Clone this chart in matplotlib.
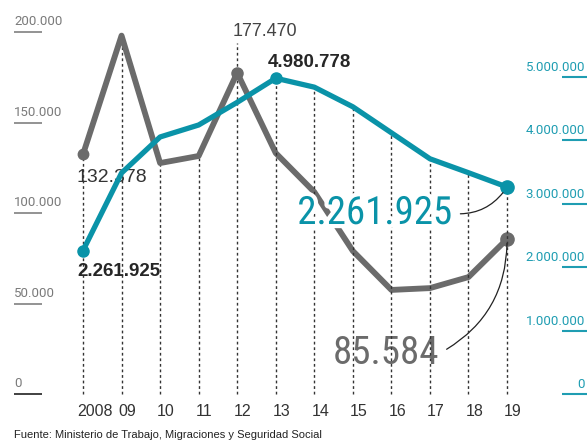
import matplotlib
matplotlib.use("Agg")
import matplotlib.pyplot as plt
import matplotlib.patheffects as pe
from matplotlib import font_manager
from matplotlib.transforms import blended_transform_factory

# data
years = list(range(2008, 2020))
year_labels = ['2008', '09', '10', '11', '12', '13', '14', '15', '16', '17', '18', '19']
gray_vals = [132378, 198000, 127600, 131500, 177470, 133100, 111600,
             79000, 57500, 58500, 64600, 85584]
blue_vals = [2261925, 3486000, 4054000, 4243000, 4600000, 4980778, 4840000,
             4530000, 4120000, 3710000, 3490000, 3265000]

left_ticks = [0, 50000, 100000, 150000, 200000]
left_labels = ['0', '50.000', '100.000', '150.000', '200.000']
right_ticks = [0, 1000000, 2000000, 3000000, 4000000, 5000000]
right_labels = ['0', '1.000.000', '2.000.000', '3.000.000', '4.000.000', '5.000.000']

GRAY = '#6b6b6b'
TEAL = '#0a93a8'
TEAL_TXT = '#1f9db2'
DARK = '#262626'
W, H = 587, 444

# look for a condensed face for the big callouts
names = {f.name for f in font_manager.fontManager.ttflist}
cond = [n for n in ['Roboto Condensed', 'Open Sans Condensed', 'Liberation Sans Narrow',
                    'DejaVu Sans Condensed'] if n in names]
big_family = cond + ['DejaVu Sans']

fig = plt.figure(figsize=(W / 100, H / 100), dpi=100)
ax = fig.add_axes([0, 0, 1, 1])
ax.set_xlim(2005.847, 2021.074)
ax.set_ylim(-27624, 217680)
ax.axis('off')
ax2 = ax.twinx()
ax2.set_ylim(-788644, 6214511)
ax2.axis('off')

bl = blended_transform_factory(ax.transAxes, ax.transData)
br = blended_transform_factory(ax2.transAxes, ax2.transData)

# left scale
for v, lab in zip(left_ticks, left_labels):
    ax.plot([14 / W, 42 / W], [v, v], transform=bl, color='#333' if v == 0 else '#8a8a8a',
            lw=1.3, solid_capstyle='butt')
    ax.annotate(lab, xy=(14 / W, v), xycoords=bl, xytext=(0, 7), textcoords='offset pixels',
                ha='left', va='baseline', fontsize=9.5, color='#7a7a7a', family='Roboto')

# right scale
for v, lab in zip(right_ticks, right_labels):
    ax2.plot([562 / W, 1], [v, v], transform=br, color=TEAL_TXT, lw=1.5, solid_capstyle='butt')
    ax2.annotate(lab, xy=(585 / W, v), xycoords=br, xytext=(0, 6), textcoords='offset pixels',
                 ha='right', va='baseline', fontsize=9.5, color=TEAL_TXT, family='Roboto')

# dotted guides
for yr, g, b in zip(years, gray_vals, blue_vals):
    if yr == 2012:
        ax.plot([yr, yr], [0, 194000], color='#333', lw=1, ls=(0, (2, 2)), zorder=1)
    elif yr < 2012:
        ax.plot([yr, yr], [0, g], color='#333', lw=1, ls=(0, (2, 2)), zorder=1)
    else:
        ax2.plot([yr, yr], [0, b], color='#333', lw=1, ls=(0, (2, 2)), zorder=1)

# lines
ax.plot(years, gray_vals, color=GRAY, lw=4.2, solid_joinstyle='round', zorder=3)
ax2.plot(years, blue_vals, color=TEAL, lw=3.8, solid_joinstyle='round', zorder=3)
for i, ms in [(0, 7.5), (4, 8), (11, 9.5)]:
    ax.plot(years[i], gray_vals[i], 'o', color=GRAY, ms=ms, zorder=4)
for i, ms in [(0, 8), (5, 8), (11, 9.5)]:
    ax2.plot(years[i], blue_vals[i], 'o', color=TEAL, ms=ms, zorder=4)

# small value labels
ax.annotate('132.378', xy=(years[0], gray_vals[0]), xytext=(-6, -28), textcoords='offset pixels',
            ha='left', va='baseline', fontsize=14, color='#333', family='Liberation Sans', zorder=2)
ax.annotate('177.470', xy=(years[4], gray_vals[4]), xytext=(-5, 37), textcoords='offset pixels',
            ha='left', va='baseline', fontsize=13, color='#444', family='Liberation Sans')
ax2.annotate('2.261.925', xy=(years[0], blue_vals[0]), xytext=(-6, -25), textcoords='offset pixels',
             ha='left', va='baseline', fontsize=13.5, color=DARK, fontweight='bold',
             family='Liberation Sans')
ax2.annotate('4.980.778', xy=(years[5], blue_vals[5]), xytext=(-8, 11), textcoords='offset pixels',
             ha='left', va='baseline', fontsize=13.5, color=DARK, fontweight='bold',
             family='Liberation Sans')

# big callouts
ax2.annotate('2.261.925', xy=(years[-1], blue_vals[-1]), xytext=(-55, -37),
             textcoords='offset pixels', ha='right', va='baseline', fontsize=28, color=TEAL,
             family=big_family, fontstretch='condensed', zorder=5,
             path_effects=[pe.withStroke(linewidth=6, foreground='white')],
             arrowprops=dict(arrowstyle='-', color='#222', lw=0.9, relpos=(1, 0.5),
                             connectionstyle='arc3,rad=0.3', shrinkA=4, shrinkB=5))
ax.annotate('85.584', xy=(years[-1], gray_vals[-1]), xytext=(-68, -125),
            textcoords='offset pixels', ha='right', va='baseline', fontsize=28, color=GRAY,
            family=big_family, fontstretch='condensed', zorder=5,
            arrowprops=dict(arrowstyle='-', color='#222', lw=0.9, relpos=(1, 0.5),
                            connectionstyle='arc3,rad=0.3', shrinkA=4, shrinkB=3))

# year labels
for yr, lab in zip(years, year_labels):
    ax.annotate(lab, xy=(yr, 0), xytext=(-6 if yr == years[0] else -3, -22),
                textcoords='offset pixels', ha='left', va='baseline', fontsize=11.5,
                color='#333', family='Liberation Sans')

fig.text(14 / W, 1 - 438 / H, 'Fuente: Ministerio de Trabajo, Migraciones y Seguridad Social',
         ha='left', va='baseline', fontsize=8, color='#222', family='Liberation Sans')

fig.savefig('out.png', dpi=100)
